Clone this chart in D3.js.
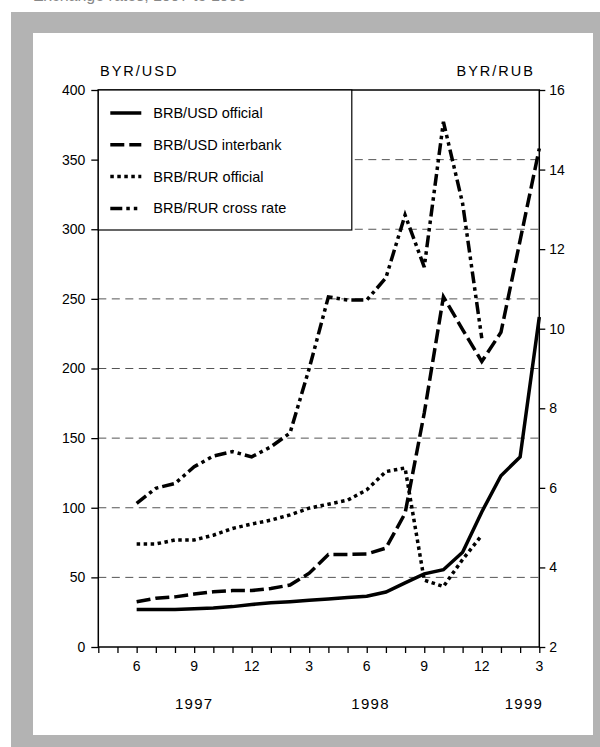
<!DOCTYPE html>
<html>
<head>
<meta charset="utf-8">
<script src="https://cdn.jsdelivr.net/npm/d3@7"></script>
<style>
  body { margin: 0; background: #fff; }
  svg { display: block; font-family: "Liberation Sans", Arimo, Arial, sans-serif; }
</style>
</head>
<body>
<script>
(function () {
  'use strict';

  // months on the x axis, April 1997 .. March 1999
  const months = [
    '1997-04', '1997-05', '1997-06', '1997-07', '1997-08', '1997-09',
    '1997-10', '1997-11', '1997-12', '1998-01', '1998-02', '1998-03',
    '1998-04', '1998-05', '1998-06', '1998-07', '1998-08', '1998-09',
    '1998-10', '1998-11', '1998-12', '1999-01', '1999-02', '1999-03'
  ];
  const monthTicks = ['1997-06', '1997-09', '1997-12', '1998-03', '1998-06', '1998-09', '1998-12', '1999-03'];
  const monthTickLabels = ['6', '9', '12', '3', '6', '9', '12', '3'];
  const yearLabels = ['1997', '1998', '1999'];
  const yearLabelAt = [5, 14.2, 22.2]; // month index under each year label

  const usdMonths = months.slice(2);          // Jun 97 .. Mar 99
  const rubMonths = months.slice(2, 21);      // Jun 97 .. Dec 98

  // BYR per USD (left axis)
  const usdOfficial = [27, 27, 27, 27.5, 28, 29, 30.5, 31.8, 32.5, 33.5, 34.5, 35.5,
    36.5, 39.5, 46, 52.5, 55.5, 68, 97, 123, 136.5, 237];
  const usdInterbank = [32.5, 35, 36, 38, 39.7, 40.5, 40.5, 42, 44.5, 53, 66.5, 66.5,
    66.8, 71, 96, 168, 251.5, 228, 205, 226, 292, 358];
  // BYR per RUB (right axis)
  const rubOfficial = [4.59, 4.59, 4.69, 4.69, 4.81, 4.98, 5.09, 5.19, 5.32, 5.49,
    5.59, 5.69, 5.95, 6.41, 6.5, 3.68, 3.52, 4.2, 4.81];
  const rubCross = [5.61, 5.99, 6.11, 6.53, 6.8, 6.91, 6.78, 7.03, 7.38, 9.0,
    10.8, 10.72, 10.72, 11.28, 12.86, 11.55, 15.2, 13.15, 9.76];

  const leftTicks = [0, 50, 100, 150, 200, 250, 300, 350, 400];
  const rightTicks = [2, 4, 6, 8, 10, 12, 14, 16];

  const series = [
    { name: 'BRB/USD official', axis: 'left', months: usdMonths, values: usdOfficial, dash: null, width: 3.5 },
    { name: 'BRB/USD interbank', axis: 'left', months: usdMonths, values: usdInterbank, dash: '14,5', width: 3.5 },
    { name: 'BRB/RUR official', axis: 'right', months: rubMonths, values: rubOfficial, dash: '3.5,3.5', width: 3.5 },
    { name: 'BRB/RUR cross rate', axis: 'right', months: rubMonths, values: rubCross, dash: '12,4,3.5,4,3.5,4', width: 3.5 }
  ];

  const W = 600, H = 747;
  const plot = { left: 98.3, right: 539.3, top: 90, bottom: 647 };

  const svg = d3.select('body').append('svg')
    .attr('width', W)
    .attr('height', H);

  // grey frame
  svg.append('rect').attr('x', 11).attr('y', 12).attr('width', 620).attr('height', 760).attr('fill', '#b3b3b3');
  svg.append('rect').attr('x', 33).attr('y', 33).attr('width', 560).attr('height', 702).attr('fill', '#fff');

  // title, cut off at the top edge of the picture
  svg.append('text')
    .attr('x', 33).attr('y', 0.5)
    .attr('fill', '#888')
    .style('font-size', '16px')
    .text('Exchange rates, 1997 to 1999');

  const x = d3.scalePoint().domain(months).range([plot.left, plot.right]);
  const yL = d3.scaleLinear().domain([0, 400]).range([plot.bottom, plot.top]);
  const yR = d3.scaleLinear().domain([2, 16]).range([plot.bottom, plot.top]);

  // gridlines
  svg.append('g').selectAll('line')
    .data(leftTicks.filter(d => d > 0 && d < 400))
    .enter().append('line')
    .attr('x1', plot.left).attr('x2', plot.right)
    .attr('y1', d => yL(d)).attr('y2', d => yL(d))
    .attr('stroke', '#555')
    .attr('stroke-width', 1)
    .attr('stroke-dasharray', '8,5.5');

  // axes
  const leftAxis = svg.append('g')
    .attr('transform', `translate(${plot.left},0)`)
    .call(d3.axisLeft(yL).tickValues(leftTicks).tickSize(7).tickPadding(6).tickSizeOuter(0));

  const rightAxis = svg.append('g')
    .attr('transform', `translate(${plot.right},0)`)
    .call(d3.axisRight(yR).tickValues(rightTicks).tickSize(6).tickPadding(4).tickSizeOuter(0));

  const bottomAxis = svg.append('g')
    .attr('transform', `translate(0,${plot.bottom})`)
    .call(d3.axisBottom(x).tickSize(6).tickFormat('').tickSizeOuter(0));

  svg.append('g').selectAll('text')
    .data(monthTicks)
    .enter().append('text')
    .attr('x', d => x(d))
    .attr('y', 666)
    .attr('text-anchor', 'middle')
    .attr('dominant-baseline', 'central')
    .style('font-size', '14px')
    .text((d, i) => monthTickLabels[i]);

  [leftAxis, rightAxis, bottomAxis].forEach(g => {
    g.select('.domain').remove();
    g.selectAll('.tick line').attr('stroke', '#000').attr('stroke-width', 1.3);
    g.selectAll('.tick text').attr('fill', '#000').style('font-size', '14px')
      .style('font-family', '"Liberation Sans", Arimo, Arial, sans-serif');
  });

  const xi = d3.scaleLinear().domain([0, months.length - 1]).range([plot.left, plot.right]);
  svg.append('g').selectAll('text')
    .data(yearLabels)
    .enter().append('text')
    .attr('x', (d, i) => xi(yearLabelAt[i]))
    .attr('y', 703)
    .attr('text-anchor', 'middle')
    .attr('dominant-baseline', 'central')
    .style('font-size', '15px')
    .style('letter-spacing', '1.3px')
    .text(d => d);

  // axis titles
  svg.append('text')
    .attr('x', 100).attr('y', 71)
    .attr('dominant-baseline', 'central')
    .style('font-size', '14.5px')
    .style('letter-spacing', '2px')
    .text('BYR/USD');
  svg.append('text')
    .attr('x', 535).attr('y', 71)
    .attr('text-anchor', 'end')
    .attr('dominant-baseline', 'central')
    .style('font-size', '14.5px')
    .style('letter-spacing', '2px')
    .text('BYR/RUB');

  // data lines
  const line = d3.line()
    .x(d => x(d.m))
    .y(d => d.axis === 'left' ? yL(d.v) : yR(d.v));

  svg.append('g').selectAll('path')
    .data(series)
    .enter().append('path')
    .attr('d', s => line(s.values.map((v, i) => ({ m: s.months[i], v: v, axis: s.axis }))))
    .attr('fill', 'none')
    .attr('stroke', '#000')
    .attr('stroke-width', s => s.width)
    .attr('stroke-dasharray', s => s.dash)
    .attr('stroke-linejoin', 'miter');

  // plot frame
  svg.append('rect')
    .attr('x', plot.left).attr('y', plot.top)
    .attr('width', plot.right - plot.left)
    .attr('height', plot.bottom - plot.top)
    .attr('fill', 'none')
    .attr('stroke', '#000')
    .attr('stroke-width', 1.5);

  // legend
  const legend = svg.append('g').attr('transform', `translate(${plot.left},${plot.top})`);
  legend.append('rect')
    .attr('width', 253.5).attr('height', 140)
    .attr('fill', '#fff')
    .attr('stroke', '#000')
    .attr('stroke-width', 1.2);

  const rows = legend.selectAll('g.row')
    .data(series)
    .enter().append('g')
    .attr('class', 'row')
    .attr('transform', (d, i) => `translate(0,${23 + i * 31.8})`);

  rows.append('line')
    .attr('x1', 12).attr('x2', 43)
    .attr('stroke', '#000')
    .attr('stroke-width', s => s.width)
    .attr('stroke-dasharray', s => s.dash);

  rows.append('text')
    .attr('x', 55)
    .attr('dominant-baseline', 'central')
    .style('font-size', '14.5px')
    .text(s => s.name);
})();
</script>
</body>
</html>
